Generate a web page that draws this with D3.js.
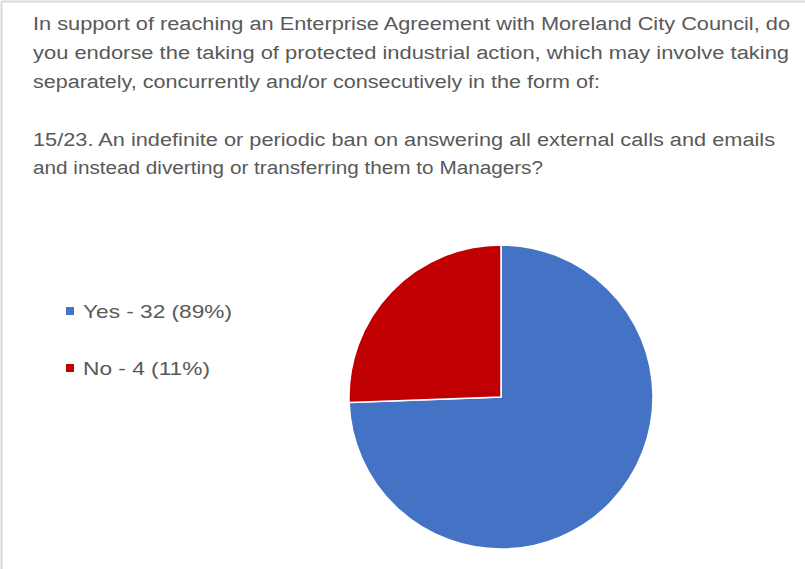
<!DOCTYPE html>
<html>
<head>
<meta charset="utf-8">
<script src="https://cdn.jsdelivr.net/npm/d3@7"></script>
<style>
  body { margin: 0; background: #fff; }
  text { font-family: "Liberation Sans", Arial, sans-serif; fill: #595959; }
</style>
</head>
<body>
<div id="chart"></div>
<script>
// Data
var categories = ["Yes", "No"];
var counts = [32, 4];
var percents = ["89%", "11%"];
// slice sizes as drawn in the picture (No slice is about a quarter of the pie)
var sliceValues = [32, 11];
var colors = ["#4472C4", "#C00000"];

var titleLines = [
  "In support of reaching an Enterprise Agreement with Moreland City Council, do",
  "you endorse the taking of protected industrial action, which may involve taking",
  "separately, concurrently and/or consecutively in the form of:",
  "",
  "15/23. An indefinite or periodic ban on answering all external calls and emails",
  "and instead diverting or transferring them to Managers?"
];
var titleWidths = [757, 756, 567, 0, 742, 510];

// SVG area
var svgWidth = 805;
var svgHeight = 569;

var svg = d3.select("#chart")
  .append("svg")
  .attr("width", svgWidth)
  .attr("height", svgHeight);

svg.append("rect")
  .attr("width", svgWidth)
  .attr("height", svgHeight)
  .attr("fill", "#fff");

// frame lines (top and left only are visible)
svg.append("line")
  .attr("x1", 1.5).attr("y1", 1.5).attr("x2", svgWidth).attr("y2", 1.5)
  .attr("stroke", "#d9d9d9").attr("stroke-width", 2);
svg.append("line")
  .attr("x1", 1.5).attr("y1", 1.5).attr("x2", 1.5).attr("y2", svgHeight)
  .attr("stroke", "#d9d9d9").attr("stroke-width", 2);

// Title
var titleGroup = svg.append("g");
titleLines.forEach(function(line, i) {
  if (!line) return;
  titleGroup.append("text")
    .attr("x", 33)
    .attr("y", 24 + i * 28.8)
    .attr("dy", "0.35em")
    .style("font-size", "18px")
    .attr("textLength", titleWidths[i])
    .attr("lengthAdjust", "spacingAndGlyphs")
    .text(line);
});

// Pie
var pieCx = 501, pieCy = 397, radius = 152;

var pie = d3.pie().sort(null);
var arc = d3.arc().innerRadius(0).outerRadius(radius);

var pieGroup = svg.append("g")
  .attr("transform", `translate(${pieCx}, ${pieCy})`);

pieGroup.selectAll("path")
  .data(pie(sliceValues))
  .enter()
  .append("path")
  .attr("d", arc)
  .attr("fill", (d, i) => colors[i])
  .attr("stroke", "#fff")
  .attr("stroke-width", 1.5);

// Legend
var legendY = d3.scalePoint()
  .domain(categories)
  .range([311, 368]);

var legend = svg.selectAll(".legend")
  .data(categories)
  .enter()
  .append("g")
  .attr("class", "legend")
  .attr("transform", d => `translate(66, ${legendY(d)})`);

legend.append("rect")
  .attr("x", 0)
  .attr("y", -4)
  .attr("width", 8)
  .attr("height", 8)
  .attr("fill", (d, i) => colors[i]);

var legendWidths = [149, 127];
legend.append("text")
  .attr("x", 17)
  .attr("y", 0)
  .attr("dy", "0.35em")
  .style("font-size", "19px")
  .attr("textLength", (d, i) => legendWidths[i])
  .attr("lengthAdjust", "spacingAndGlyphs")
  .text((d, i) => `${d} - ${counts[i]} (${percents[i]})`);
</script>
</body>
</html>
